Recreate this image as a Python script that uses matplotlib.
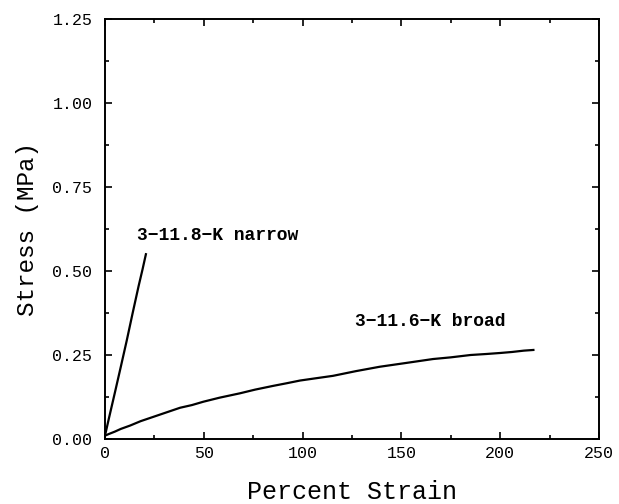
import matplotlib
matplotlib.use("Agg")
import matplotlib.pyplot as plt
from matplotlib.ticker import MultipleLocator

plt.rcParams["font.family"] = ["Liberation Mono", "DejaVu Sans Mono"]

# stress-strain curves
narrow_strain = [0.0, 2.0, 5.0, 8.0, 11.0, 14.0, 17.0, 19.0, 20.7]
narrow_stress = [0.010, 0.062, 0.138, 0.215, 0.293, 0.375, 0.455, 0.505, 0.550]

broad_strain = [0.0, 2.0, 5.0, 8.0, 12.7, 18.0, 24.5, 31.0, 38.0, 44.0, 49.8,
                58.0, 68.3, 76.0, 85.0, 92.0, 98.7, 107.0, 115.4, 127.0, 139.0,
                152.0, 166.0, 175.0, 185.0, 193.0, 200.0, 206.0, 212.0, 216.8]
broad_stress = [0.010, 0.015, 0.022, 0.030, 0.040, 0.053, 0.066, 0.079, 0.093,
                0.101, 0.111, 0.123, 0.136, 0.147, 0.158, 0.166, 0.174, 0.181,
                0.188, 0.202, 0.215, 0.226, 0.238, 0.243, 0.250, 0.253, 0.256,
                0.259, 0.263, 0.265]

narrow_label = "3\u221211.8\u2212K narrow"
broad_label = "3\u221211.6\u2212K broad"

fig = plt.figure(figsize=(6.19, 5.04), dpi=100)
ax = fig.add_axes([105 / 619, 1 - 439 / 504, 494 / 619, 420 / 504])

ax.plot(narrow_strain, narrow_stress, color="black", lw=1.6)
ax.plot(broad_strain, broad_stress, color="black", lw=1.6)

ax.text(16.0, 0.607, narrow_label, fontsize=13, fontweight="bold", va="center")
ax.text(126.5, 0.349, broad_label, fontsize=13, fontweight="bold", va="center")

ax.set_xlim(0, 250)
ax.set_ylim(0, 1.25)
ax.xaxis.set_major_locator(MultipleLocator(50))
ax.xaxis.set_minor_locator(MultipleLocator(25))
ax.yaxis.set_major_locator(MultipleLocator(0.25))
ax.yaxis.set_minor_locator(MultipleLocator(0.125))
ax.yaxis.set_major_formatter(lambda v, pos: f"{v:.2f}")

ax.tick_params(which="both", direction="in", top=True, right=True, width=1.2)
ax.tick_params(which="major", length=5, labelsize=12)
ax.tick_params(which="minor", length=3)
ax.tick_params(axis="x", pad=5)
ax.tick_params(axis="y", pad=9)
for s in ax.spines.values():
    s.set_linewidth(1.4)

xl = ax.set_xlabel("Percent Strain", fontsize=18, va="baseline")
ax.xaxis.set_label_coords(0.5, -0.143)
ax.set_ylabel("Stress (MPa)", fontsize=17.5, labelpad=10)

fig.savefig("out.png", dpi=100)
